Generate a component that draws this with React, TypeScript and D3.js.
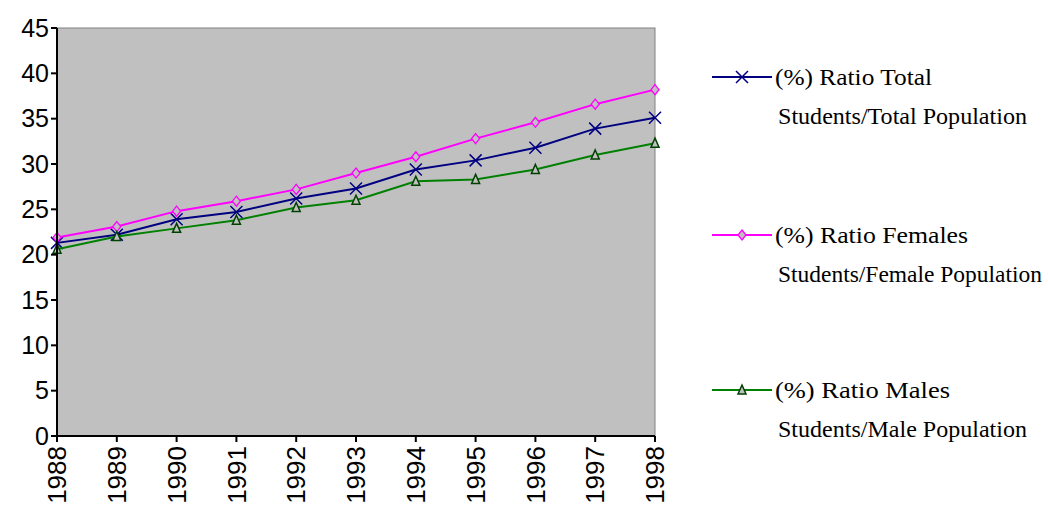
import React from 'react'
import * as d3 from 'd3'

const years = ['1988','1989','1990','1991','1992','1993','1994','1995','1996','1997','1998']
const total = [21.3, 22.2, 23.9, 24.7, 26.2, 27.3, 29.4, 30.4, 31.8, 33.9, 35.1]
const females = [21.9, 23.1, 24.8, 25.9, 27.2, 29.0, 30.8, 32.8, 34.6, 36.6, 38.2]
const males = [20.6, 22.0, 22.9, 23.8, 25.2, 26.0, 28.1, 28.3, 29.4, 31.0, 32.3]
const yTicks = [0, 5, 10, 15, 20, 25, 30, 35, 40, 45]

const series = [
	{ name: ['(%) Ratio Total', 'Students/Total Population'], len: [157, 249], values: total, color: '#000080', marker: 'x', ly: 77 },
	{ name: ['(%) Ratio Females', 'Students/Female Population'], len: [193, 264], values: females, color: '#ff00ff', marker: 'diamond', ly: 235 },
	{ name: ['(%) Ratio Males', 'Students/Male Population'], len: [175, 249], values: males, color: '#008000', marker: 'tri', ly: 390 },
]

function Marker(props: { type: string, x: number, y: number, color: string }) {
	const { type, x, y, color } = props
	if (type === 'x') return <path d={`M${x-6},${y-6}L${x+6},${y+6}M${x-6},${y+6}L${x+6},${y-6}`} stroke={color} strokeWidth={1.5} />
	if (type === 'diamond') return <path d={`M${x},${y-5}L${x+4},${y}L${x},${y+5}L${x-4},${y}Z`} fill="#c0c0c0" stroke={color} strokeWidth={1.3} />
	return <path d={`M${x},${y-5}L${x+4},${y+4}L${x-4},${y+4}Z`} fill="#c0c0c0" stroke="#004000" strokeWidth={1.5} />
}

export default function App() {
	const left = 57, right = 655, top = 28, bottom = 436
	const x = d3.scaleLinear().domain([0, years.length - 1]).range([left, right])
	const y = d3.scaleLinear().domain([0, 45]).range([bottom, top])
	const line = d3.line<number>().x((_, i) => x(i)).y(d => y(d))

	return (
		<svg width={1048} height={517} style={{ position: 'absolute', left: 0, top: 0, background: '#fff' }}>
			<rect x={left} y={top} width={right - left} height={bottom - top} fill="#c0c0c0" stroke="#808080" />
			{series.map((s, k) => (
				<g key={k}>
					<path d={line(s.values) || ''} fill="none" stroke={s.color} strokeWidth={2} />
					{s.values.map((v, i) => <Marker key={i} type={s.marker} x={x(i)} y={y(v)} color={s.color} />)}
				</g>
			))}
			<line x1={left} x2={left} y1={top} y2={bottom} stroke="#000" strokeWidth={2} />
			<line x1={left} x2={right} y1={bottom} y2={bottom} stroke="#000" strokeWidth={2} />
			{yTicks.map(t => (
				<g key={t}>
					<line x1={left - 6} x2={left} y1={y(t)} y2={y(t)} stroke="#000" strokeWidth={2} />
					<text x={left - 8} y={y(t)} dy="0.35em" textAnchor="end" fontFamily="Liberation Sans, Arial" fontSize={25}>{t}</text>
				</g>
			))}
			{years.map((yr, i) => (
				<g key={yr}>
					<line x1={x(i)} x2={x(i)} y1={bottom} y2={bottom + 6} stroke="#000" strokeWidth={2} />
					<text transform={`translate(${x(i)},${bottom + 10}) rotate(-90)`} dy="0.35em" textAnchor="end" fontFamily="Liberation Sans, Arial" fontSize={26}>{yr}</text>
				</g>
			))}
			{series.map((s, k) => (
				<g key={k} fontFamily="Liberation Serif, Times New Roman" fontSize={24}>
					<line x1={712} x2={772} y1={s.ly} y2={s.ly} stroke={s.color} strokeWidth={2} />
					<Marker type={s.marker} x={742} y={s.ly} color={s.color} />
					<text x={775} y={s.ly} dy="0.35em" textLength={s.len[0]} lengthAdjust="spacingAndGlyphs">{s.name[0]}</text>
					<text x={778} y={s.ly + 39} dy="0.35em" textLength={s.len[1]} lengthAdjust="spacingAndGlyphs">{s.name[1]}</text>
				</g>
			))}
		</svg>
	)
}
